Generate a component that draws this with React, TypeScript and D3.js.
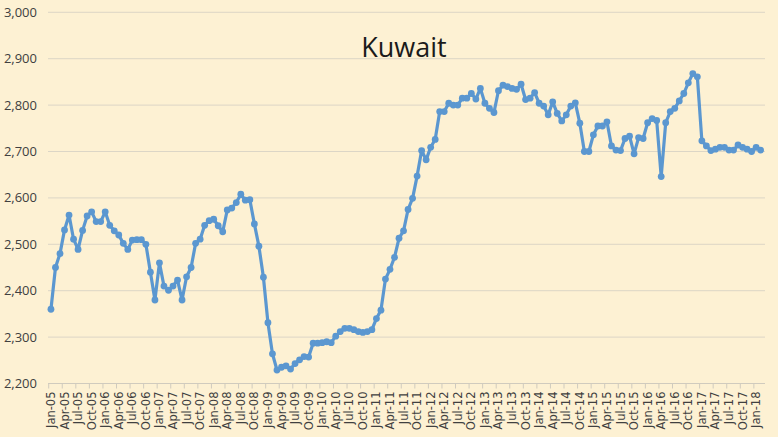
import React from "react";
import * as d3 from "d3";

const MONTHS = ["Jan","Feb","Mar","Apr","May","Jun","Jul","Aug","Sep","Oct","Nov","Dec"];
const START_YEAR = 2005;

// Kuwait crude production, thousand b/d, Jan-05 .. Feb-18
const production: number[] = [
  2360, 2450, 2480, 2531, 2563, 2511, 2489, 2530, 2561, 2570, 2549, 2549,
  2570, 2541, 2529, 2520, 2502, 2489, 2509, 2510, 2510, 2500, 2440, 2380,
  2460, 2410, 2401, 2410, 2423, 2380, 2430, 2450, 2502, 2511, 2541, 2551,
  2554, 2540, 2527, 2574, 2578, 2590, 2608, 2595, 2596, 2544, 2496, 2429,
  2331, 2264, 2229, 2235, 2238, 2231, 2243, 2251, 2258, 2257, 2287, 2287,
  2288, 2290, 2288, 2302, 2312, 2319, 2319, 2316, 2312, 2310, 2312, 2316,
  2340, 2358, 2425, 2446, 2472, 2513, 2529, 2575, 2599, 2647, 2702, 2682,
  2709, 2726, 2786, 2786, 2804, 2800, 2800, 2815, 2815, 2825, 2813, 2836,
  2804, 2793, 2784, 2831, 2843, 2840, 2836, 2834, 2845, 2812, 2815, 2827,
  2804, 2798, 2779, 2807, 2782, 2766, 2779, 2798, 2805, 2761, 2700, 2700,
  2736, 2755, 2755, 2764, 2712, 2703, 2702, 2728, 2733, 2695, 2730, 2728,
  2762, 2771, 2767, 2646, 2762, 2786, 2793, 2809, 2825, 2848, 2868, 2861,
  2723, 2712, 2702, 2705, 2709, 2709, 2703, 2703, 2714, 2709, 2705, 2700,
  2709, 2703,
];

const categories: string[] = production.map((_, i) => {
  const y = START_YEAR + Math.floor(i / 12);
  return `${MONTHS[i % 12]}-${String(y % 100).padStart(2, "0")}`;
});

const yTicks: number[] = [2200, 2300, 2400, 2500, 2600, 2700, 2800, 2900, 3000];
const title = "Kuwait";

const W = 778, H = 437;
const BG = "#FDF1D3";
const LINE = "#5B97D0";

export default function App() {
  const x = d3.scaleBand<string>().domain(categories).range([48.7, 762.9]).padding(0);
  const y = d3.scaleLinear().domain([2200, 3000]).range([383.5, 12.3]);
  const cx = (c: string) => (x(c) as number) + x.bandwidth() / 2;

  const line = d3.line<number>()
    .x((_, i) => cx(categories[i]))
    .y((d) => y(d))
    .curve(d3.curveLinear);

  const fmt = d3.format(",");
  const labelIdx = categories.map((_, i) => i).filter((i) => i % 3 === 0 && i < 157);
  const x0 = 48, x1 = 765;

  return (
    <svg width={W} height={H} style={{ position: "absolute", left: 0, top: 0, display: "block" }}>
      <rect x={0} y={0} width={W} height={H} fill={BG} />
      {yTicks.map((t) => (
        <g key={t}>
          {t !== 2200 && (
            <line x1={x0} x2={x1} y1={y(t)} y2={y(t)} stroke="#DCD6C6" strokeWidth={1} />
          )}
          <text x={37} y={y(t)} dy="0.35em" textAnchor="end"
            fontFamily="'Open Sans', sans-serif" fontSize={13} fill="#404040">
            {fmt(t)}
          </text>
        </g>
      ))}
      <line x1={x0} x2={x1} y1={y(2200)} y2={y(2200)} stroke="#D0CBBE" strokeWidth={1} />
      {labelIdx.map((i) => (
        <line key={"tk" + i} x1={x(categories[i]) as number} x2={x(categories[i]) as number}
          y1={y(2200)} y2={y(2200) + 5} stroke="#D0CBBE" strokeWidth={1} />
      ))}
      {labelIdx.map((i) => (
        <text key={"lb" + i}
          transform={`translate(${cx(categories[i])},${y(2200) + 8}) rotate(-90)`}
          textAnchor="end" dy="0.35em"
          fontFamily="'DejaVu Sans', sans-serif" fontSize={11.5} fill="#404040">
          {categories[i]}
        </text>
      ))}
      <path d={line(production) || ""} fill="none" stroke={LINE} strokeWidth={3.2} strokeLinejoin="round" />
      {production.map((v, i) => (
        <circle key={"pt" + i} cx={cx(categories[i])} cy={y(v)} r={3.4} fill={LINE} />
      ))}
      <text x={404} y={57} textAnchor="middle" fontFamily="'Open Sans', sans-serif"
        fontSize={27} fill="#1a1a1a">
        {title}
      </text>
    </svg>
  );
}
